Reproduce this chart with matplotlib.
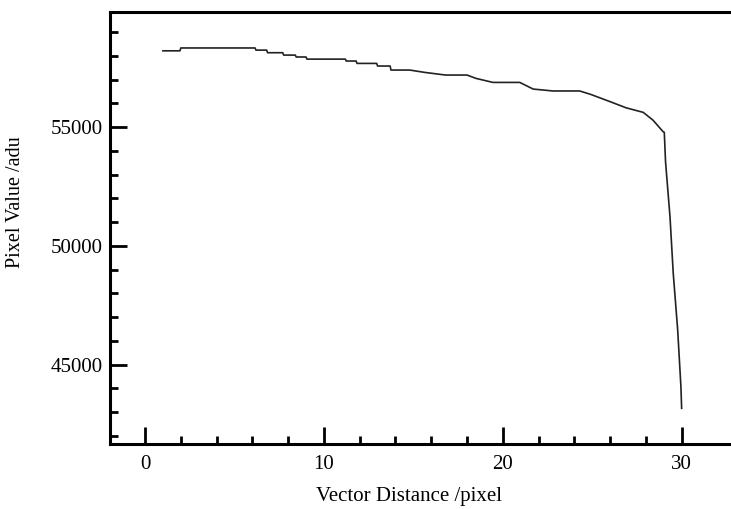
import matplotlib
matplotlib.use("Agg")
import matplotlib.pyplot as plt
from matplotlib.ticker import MultipleLocator, FixedLocator

# profile along the vector
distance = [1.0, 1.95, 2.0, 6.15, 6.2, 6.8, 6.85, 7.7, 7.75, 8.4, 8.45, 9.0, 9.05,
            11.2, 11.25, 11.8, 11.85, 12.95, 13.0, 13.7, 13.75, 14.8, 15.65,
            16.8, 18.0, 18.5, 19.45, 20.95, 21.7, 22.8, 24.3, 24.9, 26.0,
            26.9, 27.85, 28.4, 28.97, 29.03, 29.1, 29.35, 29.53, 29.78, 29.96, 30.0]
pixel_value = [58210, 58210, 58330, 58330, 58240, 58240, 58130, 58130, 58030, 58030,
               57950, 57950, 57860, 57860, 57780, 57780, 57680, 57680, 57570, 57570,
               57400, 57400, 57300, 57190, 57190, 57050, 56880, 56880, 56600, 56520,
               56520, 56380, 56070, 55810, 55620, 55290, 54800, 54780, 53540, 51220,
               48850, 46450, 44070, 43160]
minor_x = [2, 4, 6, 8, 12, 14, 16, 18, 22, 24, 26, 28]

plt.rcParams['font.family'] = ['Liberation Serif', 'DejaVu Serif']

fig = plt.figure(figsize=(7.31, 5.09), dpi=100)
ax = fig.add_axes([110 / 731, 1 - 443.7 / 509, 1 - 110 / 731, (443.7 - 12) / 509])

ax.plot(distance, pixel_value, color="#222222", lw=1.2)

ax.set_xlim(-1.96, 32.76)
ax.set_ylim(41672, 59844)
ax.spines['right'].set_visible(False)
for s in ['left', 'top', 'bottom']:
    ax.spines[s].set_linewidth(2.2)

ax.xaxis.set_major_locator(MultipleLocator(10))
ax.xaxis.set_minor_locator(FixedLocator(minor_x))
ax.yaxis.set_major_locator(MultipleLocator(5000))
ax.yaxis.set_minor_locator(MultipleLocator(1000))
ax.tick_params(which='both', direction='in', width=2, labelsize=15,
               top=False, right=False)
ax.tick_params(which='major', length=12)
ax.tick_params(which='minor', length=6)
ax.tick_params(axis='x', pad=8)
ax.tick_params(axis='y', pad=5)

fig.text(409 / 731, 1 - 496 / 509, "Vector Distance /pixel", fontsize=15,
         ha='center', va='center')
fig.text(16 / 731, 1 - 202 / 509, "Pixel Value /adu", fontsize=14.5,
         ha='center', va='center', rotation=90)

fig.savefig("out.png", dpi=100)
